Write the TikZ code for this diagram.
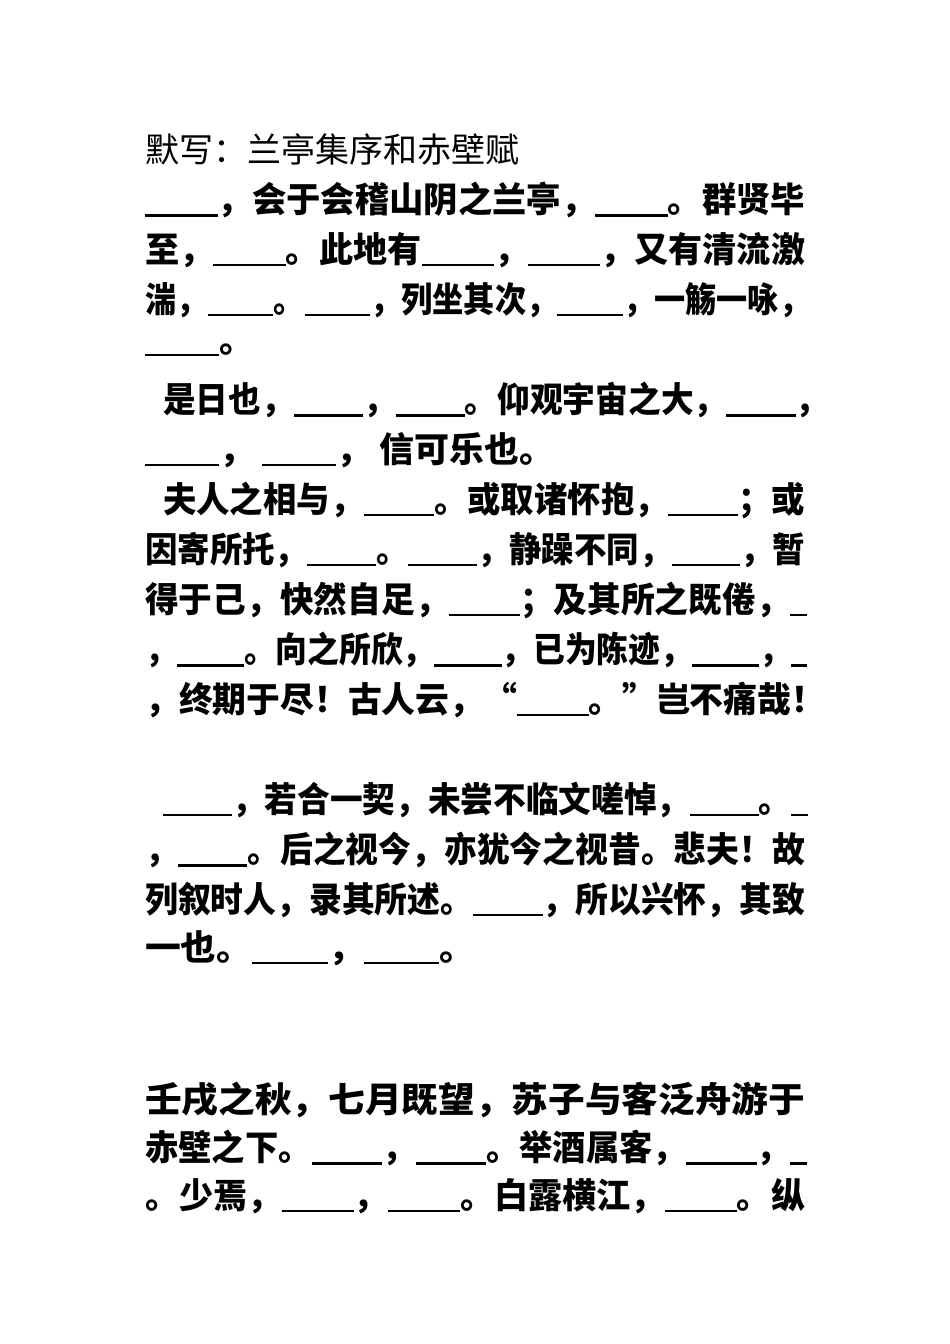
\documentclass[tikz,border=0pt]{standalone}
\usepackage{fontspec}
\usepackage{graphicx}
\newfontfamily\cjk{Noto Sans CJK SC}
\newcommand{\bk}{\rule[-4pt]{74pt}{2.2pt}}
\newcommand{\bks}{\rule[-4pt]{18pt}{2.2pt}}
\newcommand{\fitw}[2]{\resizebox{#1}{\height}{#2}}
\begin{document}
\begin{tikzpicture}[x=1pt,y=-1pt,
  ln/.style={anchor=west,inner sep=0pt,font=\cjk\bfseries\fontsize{35}{35}\selectfont},
  tl/.style={anchor=west,inner sep=0pt,font=\cjk\fontsize{34}{34}\selectfont}]
\fill[white] (0,0) rectangle (950,1344);
\useasboundingbox (0,0) rectangle (950,1344);
\node[tl] (t0) at (145,150) {默写：兰亭集序和赤壁赋};
\node[ln] (l1) at (145,200) {\fitw{660pt}{\bk，会于会稽山阴之兰亭，\bk。群贤毕}};
\node[ln] (l2) at (145,250) {\fitw{660pt}{至，\bk。此地有\bk，\bk，又有清流激}};
\node[ln] (l3) at (145,300) {\fitw{665pt}{湍，\bk。\bk，列坐其次，\bk，一觞一咏，}};
\node[ln] (l4) at (145,350) {\bk。};
\node[ln] (l5) at (163,400) {\fitw{665pt}{是日也，\bk，\bk。仰观宇宙之大，\bk，}};
\node[ln] (l6) at (145,450) {\bk， \bk， 信可乐也。};
\node[ln] (l7) at (163,500) {\fitw{642pt}{夫人之相与，\bk。或取诸怀抱，\bk；或}};
\node[ln] (l8) at (145,550) {\fitw{660pt}{因寄所托，\bk。\bk，静躁不同，\bk，暂}};
\node[ln] (l9) at (145,600) {\fitw{662pt}{得于己，快然自足，\bk；及其所之既倦，\bks}};
\node[ln] (l10) at (145,650) {\fitw{662pt}{，\bk。向之所欣，\bk，已为陈迹，\bk，\bks}};
\node[ln] (l11) at (145,700) {\fitw{680pt}{，终期于尽！古人云，“\bk。”岂不痛哉！}};
\node[ln] (l12) at (163,800) {\fitw{645pt}{\bk，若合一契，未尝不临文嗟悼，\bk。\bks}};
\node[ln] (l13) at (145,850) {\fitw{660pt}{，\bk。后之视今，亦犹今之视昔。悲夫！故}};
\node[ln] (l14) at (145,900) {\fitw{660pt}{列叙时人，录其所述。\bk，所以兴怀，其致}};
\node[ln] (l15) at (145,948) {\fitw{330pt}{一也。\bk，\bk。}};
\node[ln] (l16) at (145,1100) {\fitw{660pt}{壬戌之秋，七月既望，苏子与客泛舟游于}};
\node[ln] (l17) at (145,1148) {\fitw{662pt}{赤壁之下。\bk，\bk。举酒属客，\bk，\bks}};
\node[ln] (l18) at (145,1196) {\fitw{660pt}{。少焉，\bk，\bk。白露横江，\bk。纵}};
\end{tikzpicture}
\end{document}
